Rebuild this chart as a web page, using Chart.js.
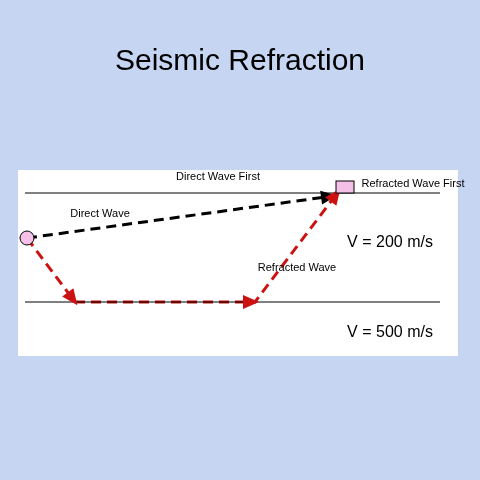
<!DOCTYPE html>
<html><head><script src="https://cdn.jsdelivr.net/npm/chart.js@4"></script>
<style>html,body{margin:0;padding:0;background:#c6d6f2}</style></head>
<body><canvas id="c" width="480" height="480"></canvas>
<script>
const title = "Seismic Refraction";
const layerLines = [[{x:25,y:193},{x:440,y:193}],[{x:25,y:302},{x:440,y:302}]];
const directPath = [{x:27,y:238},{x:333,y:196}];
const refractedPath = [{x:27,y:238},{x:75,y:302},{x:255,y:302},{x:338,y:192}];
const labels = [
  {t:"Direct Wave First",x:218,y:177,s:11},
  {t:"Refracted Wave First",x:413,y:184,s:11},
  {t:"Direct Wave",x:100,y:214,s:11},
  {t:"V = 200 m/s",x:390,y:243,s:16},
  {t:"Refracted Wave",x:297,y:268,s:11},
  {t:"V = 500 m/s",x:390,y:333,s:16}
];
const decor = {
  id:'decor',
  beforeDraw(c){
    const g=c.ctx;
    g.save();g.fillStyle='#c6d6f2';g.fillRect(0,0,480,480);
    g.fillStyle='#fff';g.fillRect(18,170,440,186);
    g.fillStyle='#000';g.font='30px "Liberation Sans Narrow", "Liberation Sans", Arial';g.textAlign='center';g.textBaseline='middle';
    g.fillText(title,240,62);g.restore();
  },
  afterDatasetsDraw(c){
    const g=c.ctx,X=c.scales.x,Y=c.scales.y;
    function arrow(a,b,col){
      const x1=X.getPixelForValue(a.x),y1=Y.getPixelForValue(a.y),x2=X.getPixelForValue(b.x),y2=Y.getPixelForValue(b.y);
      const an=Math.atan2(y2-y1,x2-x1);g.save();g.fillStyle=col;g.translate(x2,y2);g.rotate(an);
      g.beginPath();g.moveTo(4,0);g.lineTo(-12,-7);g.lineTo(-12,7);g.closePath();g.fill();g.restore();
    }
    arrow(directPath[0],directPath[1],'#000');
    for(let i=0;i<refractedPath.length-1;i++)arrow(refractedPath[i],refractedPath[i+1],'#cc1111');
    g.save();
    const p=directPath[0];
    g.beginPath();g.arc(X.getPixelForValue(p.x),Y.getPixelForValue(p.y),7,0,Math.PI*2);g.fillStyle='#f4c0e8';g.fill();g.strokeStyle='#000';g.lineWidth=1;g.stroke();
    g.fillStyle='#f4c0e8';g.fillRect(336,181,18,12);g.strokeRect(336,181,18,12);
    g.fillStyle='#000';g.textAlign='center';g.textBaseline='middle';
    labels.forEach(l=>{g.font=l.s+'px "Liberation Sans", Arial';g.fillText(l.t,X.getPixelForValue(l.x),Y.getPixelForValue(l.y));});
    g.restore();
  }
};
const ds=[];
layerLines.forEach(l=>ds.push({data:l,borderColor:'#000',borderWidth:1,pointRadius:0,showLine:true}));
ds.push({data:directPath,borderColor:'#000',borderWidth:3,borderDash:[10,6],pointRadius:0,showLine:true});
ds.push({data:refractedPath,borderColor:'#cc1111',borderWidth:3,borderDash:[10,6],pointRadius:0,showLine:true});
new Chart(document.getElementById('c'),{type:'scatter',data:{datasets:ds},plugins:[decor],
options:{responsive:false,animation:false,devicePixelRatio:1,layout:{padding:0},
plugins:{legend:{display:false},tooltip:{enabled:false}},
scales:{x:{type:'linear',min:0,max:480,display:false},y:{type:'linear',min:0,max:480,reverse:true,display:false}}}});
</script></body></html>
